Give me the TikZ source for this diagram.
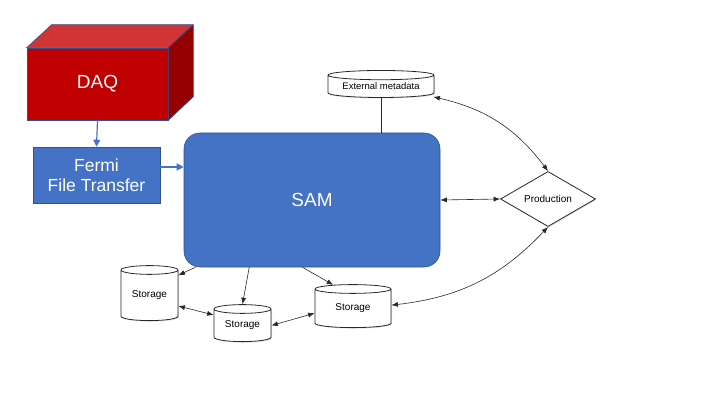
\documentclass[tikz,border=0pt]{standalone}
\usepackage{fontspec}
\setmainfont{Liberation Sans}
\usetikzlibrary{shapes.geometric, arrows.meta, shadows}
\definecolor{daq_red}{RGB}{192, 0, 0}
\definecolor{daq_top}{RGB}{208, 52, 52}
\definecolor{daq_side}{RGB}{150, 0, 0}
\definecolor{sam_blue}{RGB}{68, 114, 196}
\definecolor{sam_edge}{RGB}{47, 82, 143}
\definecolor{line_grey}{RGB}{40, 40, 40}

\begin{document}
\begin{tikzpicture}[
    x=1pt, y=1pt,
    bluebox/.style={
        rectangle,
        draw=sam_edge,
        fill=#1,
        semithick,
        text=white,
        align=center
    },
    store/.style={
        cylinder,
        shape border rotate=90,
        aspect=0.25,
        draw=line_grey,
        fill=white,
        thick,
        inner sep=0pt,
        font=\fontsize{10}{12}\selectfont,
        drop shadow={opacity=0.25, shadow xshift=1pt, shadow yshift=-1pt}
    },
    decision/.style={
        diamond,
        draw=line_grey,
        fill=white,
        thick,
        inner sep=0pt,
        font=\fontsize{10}{12}\selectfont,
        drop shadow={opacity=0.25, shadow xshift=1pt, shadow yshift=-1pt}
    },
    blue_arrow/.style={
        -{Triangle[length=7pt, width=7pt]},
        very thick,
        draw=sam_blue
    },
    arrow/.style={
        -{Latex[length=6.5pt, width=5pt]},
        semithick,
        draw=line_grey
    },
    dbl_arrow/.style={
        {Latex[length=6.5pt, width=5pt]}-{Latex[length=6.5pt, width=5pt]},
        semithick,
        draw=line_grey
    }
]
\useasboundingbox (0,0) rectangle (720,405);

% DAQ box, front face plus top and side
\node[bluebox=daq_red, minimum width=141, minimum height=72,
      font=\fontsize{19}{22}\selectfont] (daq) at (97.5,321) {DAQ};
\filldraw[fill=daq_top, draw=sam_edge, semithick]
    (daq.north west) -- ++(25,23) -- ++(141,0) -- (daq.north east) -- cycle;
\filldraw[fill=daq_side, draw=sam_edge, semithick]
    (daq.north east) -- ++(25,23) -- ++(0,-72) -- (daq.south east) -- cycle;

% Transfer and SAM
\node[bluebox=sam_blue, minimum width=127, minimum height=56,
      font=\fontsize{17.5}{20}\selectfont] (fft) at (96.5,230) {Fermi\\File Transfer};
\node[bluebox=sam_blue, rounded corners=16pt, minimum width=256, minimum height=134,
      font=\fontsize{19}{22}\selectfont] (sam) at (312,205) {SAM};

% Metadata and production
\node[store, aspect=0.12, minimum width=106, minimum height=27,
      font=\fontsize{9.5}{11}\selectfont] (meta) at (381,318.5) {External metadata};
\node[decision, minimum width=95, minimum height=38] (prod) at (548,206) {Production};

% Storage
\node[store, minimum width=57, minimum height=55] (s1) at (149.5,109.5) {Storage};
\node[store, minimum width=57, minimum height=37] (s2) at (242.5,79.5) {Storage};
\node[store, minimum width=76, minimum height=43] (s3) at (353,96.5) {Storage};

% Connections
\draw[blue_arrow] (daq.south) -- (fft.north);
\draw[blue_arrow] ([yshift=8pt]fft.east) -- ([yshift=8pt]fft.east -| sam.west);
\draw[semithick, draw=line_grey] (meta.south) -- (meta.south |- sam.north);
\draw[dbl_arrow] (sam.east) -- (prod.west);
\draw[dbl_arrow] ([xshift=-1pt,yshift=1pt]meta.east |- meta.south) to[bend left=20] (prod.north);
\draw[dbl_arrow] (prod.south) to[bend left=20] (s3.5);

\draw[arrow] (sam.210) -- (s1.35);
\draw[arrow] (sam.227) -- (s2.north);
\draw[arrow] (sam.262) -- (s3.130);
\draw[dbl_arrow] (s1.-20) -- (s2.160);
\draw[dbl_arrow] (s2.east) -- (s3.187);

\end{tikzpicture}
\end{document}
